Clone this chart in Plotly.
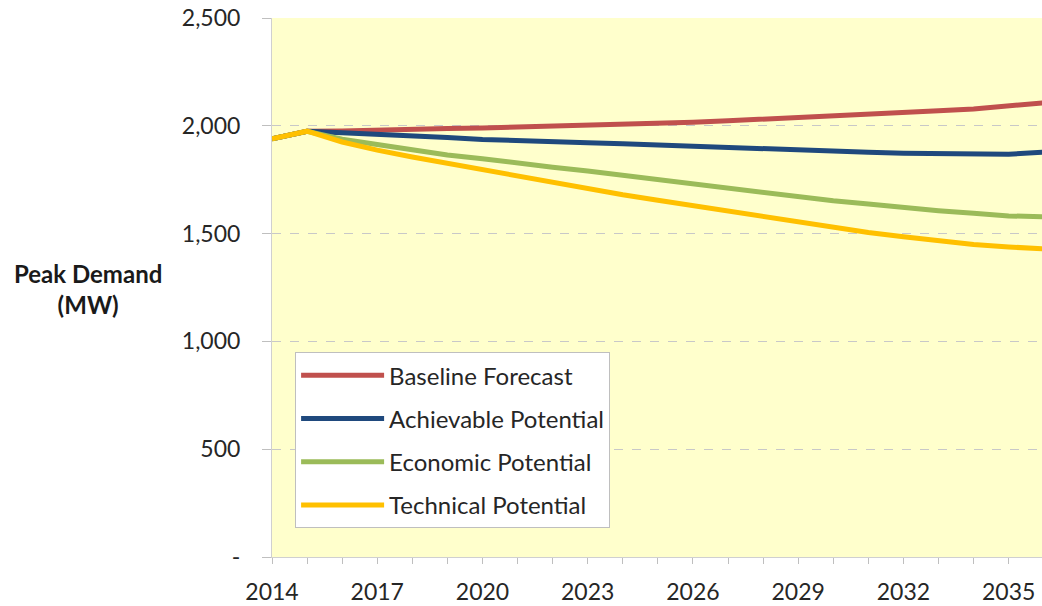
import plotly.graph_objects as go

years = list(range(2014, 2037))
baseline = [1940, 1975, 1976, 1978, 1982, 1987, 1990, 1994, 1997, 2002, 2007, 2012,
            2017, 2023, 2030, 2037, 2045, 2053, 2062, 2070, 2078, 2090, 2107]
achievable = [1940, 1975, 1968, 1962, 1954, 1946, 1937, 1930, 1925, 1921, 1917, 1911,
              1904, 1897, 1890, 1885, 1882, 1877, 1873, 1870, 1867, 1868, 1878]
economic = [1940, 1975, 1938, 1912, 1888, 1865, 1847, 1826, 1808, 1790, 1770, 1748,
            1730, 1710, 1688, 1670, 1652, 1637, 1620, 1606, 1594, 1582, 1578]
technical = [1940, 1975, 1925, 1887, 1855, 1825, 1797, 1767, 1740, 1707, 1680, 1655,
             1630, 1604, 1578, 1553, 1528, 1505, 1485, 1465, 1449, 1438, 1429]

series_names = ["Baseline Forecast", "Achievable Potential", "Economic Potential", "Technical Potential"]
series_values = [baseline, achievable, economic, technical]
series_colors = ["#C0504D", "#1F497D", "#9BBB59", "#FFC000"]

x_tick_vals = [2014, 2017, 2020, 2023, 2026, 2029, 2032, 2035]
y_tick_vals = [0, 500, 1000, 1500, 2000, 2500]
y_tick_text = ["-", "500", "1,000", "1,500", "2,000", "2,500"]

FONT = "Lato, 'Open Sans', sans-serif"
TEXT = "#262626"

fig = go.Figure()
for i in range(4):
    fig.add_trace(go.Scatter(
        x=years, y=series_values[i], name=series_names[i], mode="lines",
        line=dict(color=series_colors[i], width=5),
        legendgroup=series_names[i], legendrank=i + 1,
        hoverinfo="skip",
    ))

fig.update_layout(
    width=1042, height=606,
    margin=dict(l=272, r=0, t=18, b=49),
    paper_bgcolor="white",
    plot_bgcolor="#FFFFCC",
    font=dict(family=FONT, color=TEXT, size=23),
    showlegend=True,
    legend=dict(
        x=0.03, y=0.38, xanchor="left", yanchor="top",
        bgcolor="white", bordercolor="#BFBFBF", borderwidth=1,
        font=dict(family=FONT, size=24, color=TEXT),
        tracegroupgap=9,
        traceorder="grouped",
        itemwidth=83,
    ),
    xaxis=dict(
        range=[2014, 2035.95],
        tickvals=x_tick_vals,
        ticktext=[str(v) for v in x_tick_vals],
        ticks="outside", ticklen=6, tickcolor="#BFBFBF", tickwidth=1,
        minor=dict(dtick=1, tick0=2014, ticks="outside", ticklen=6, tickcolor="#BFBFBF", showgrid=False),
        showgrid=False, zeroline=False,
        showline=True, linecolor="#D0D0D0", linewidth=1,
        tickfont=dict(size=23, color=TEXT),
        ticklabelstandoff=8,
    ),
    yaxis=dict(
        range=[0, 2500],
        tickvals=y_tick_vals, ticktext=y_tick_text,
        ticks="outside", ticklen=9, tickcolor="#BFBFBF",
        showgrid=True, gridcolor="#C8C8C8", griddash="dash", gridwidth=1,
        zeroline=False,
        showline=True, linecolor="#D0D0D0", linewidth=1,
        tickfont=dict(size=23, color=TEXT),
        ticklabelstandoff=17,
    ),
)

fig.add_annotation(
    text="Peak Demand<br>(MW)", xref="paper", yref="paper",
    x=(88 - 272) / 770, y=(557 - 289) / 539,
    xanchor="center", yanchor="middle", showarrow=False,
    font=dict(family=FONT, size=24, color="#1a1a1a", weight="bold"),
    align="center",
)

fig.write_html("out.html", config={"displayModeBar": False},
               post_script="document.body.style.margin='0';document.body.style.overflow='hidden';")
